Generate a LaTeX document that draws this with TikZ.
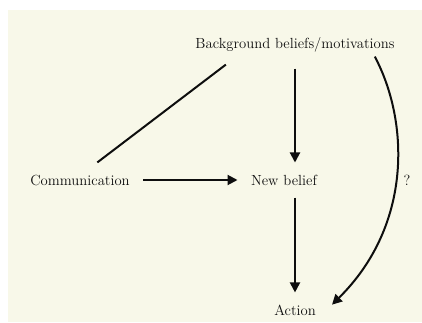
\documentclass[tikz,border=0pt]{standalone}
\usepackage{tikz}
\usepackage{xcolor}
\usetikzlibrary{positioning,arrows.meta,calc}
\definecolor{ink}{HTML}{0E0E0E}
\definecolor{paper}{HTML}{F8F8E9}

\begin{document}
\begin{tikzpicture}[
  x=0.75pt, y=0.75pt,
  every node/.style={font=\fontsize{11}{13}\selectfont, inner sep=0pt, text=ink},
  arr/.style={-{Triangle[length=7.5pt,width=7.5pt]}, line width=1.5pt, draw=ink,
    shorten <=9pt, shorten >=9pt},
  plain/.style={line width=1.5pt, draw=ink}
]

% Canvas
\useasboundingbox (0,0) rectangle (422,322);
\fill[paper] (8,0) rectangle (422,312);

% Nodes
\node (bg)   at (295,277) {Background beliefs/motivations};
\node (comm) at (80,142)  {Communication};
\node (nb)   at (284,142) {New belief};
\node (act)  at (295,12)  {Action};
\node (q)    at (407,142) {?};

% Connectors
\draw[plain] ([xshift=13pt,yshift=9pt]comm.north) -- ([xshift=23pt,yshift=-9pt]bg.south west);
\draw[arr, shorten <=10pt, shorten >=10pt] (comm) -- (nb);
\draw[arr, shorten <=12pt] (bg.south -| act) -- (nb.north -| act);
\draw[arr] (nb.south -| act) -- (act);
\draw[arr, shorten <=0pt, shorten >=0pt] ([xshift=-15pt,yshift=-3pt]bg.south east)
  .. controls +(34,-64) and +(81,80) .. ([xshift=12pt,yshift=4pt]act.east);

\end{tikzpicture}
\end{document}
